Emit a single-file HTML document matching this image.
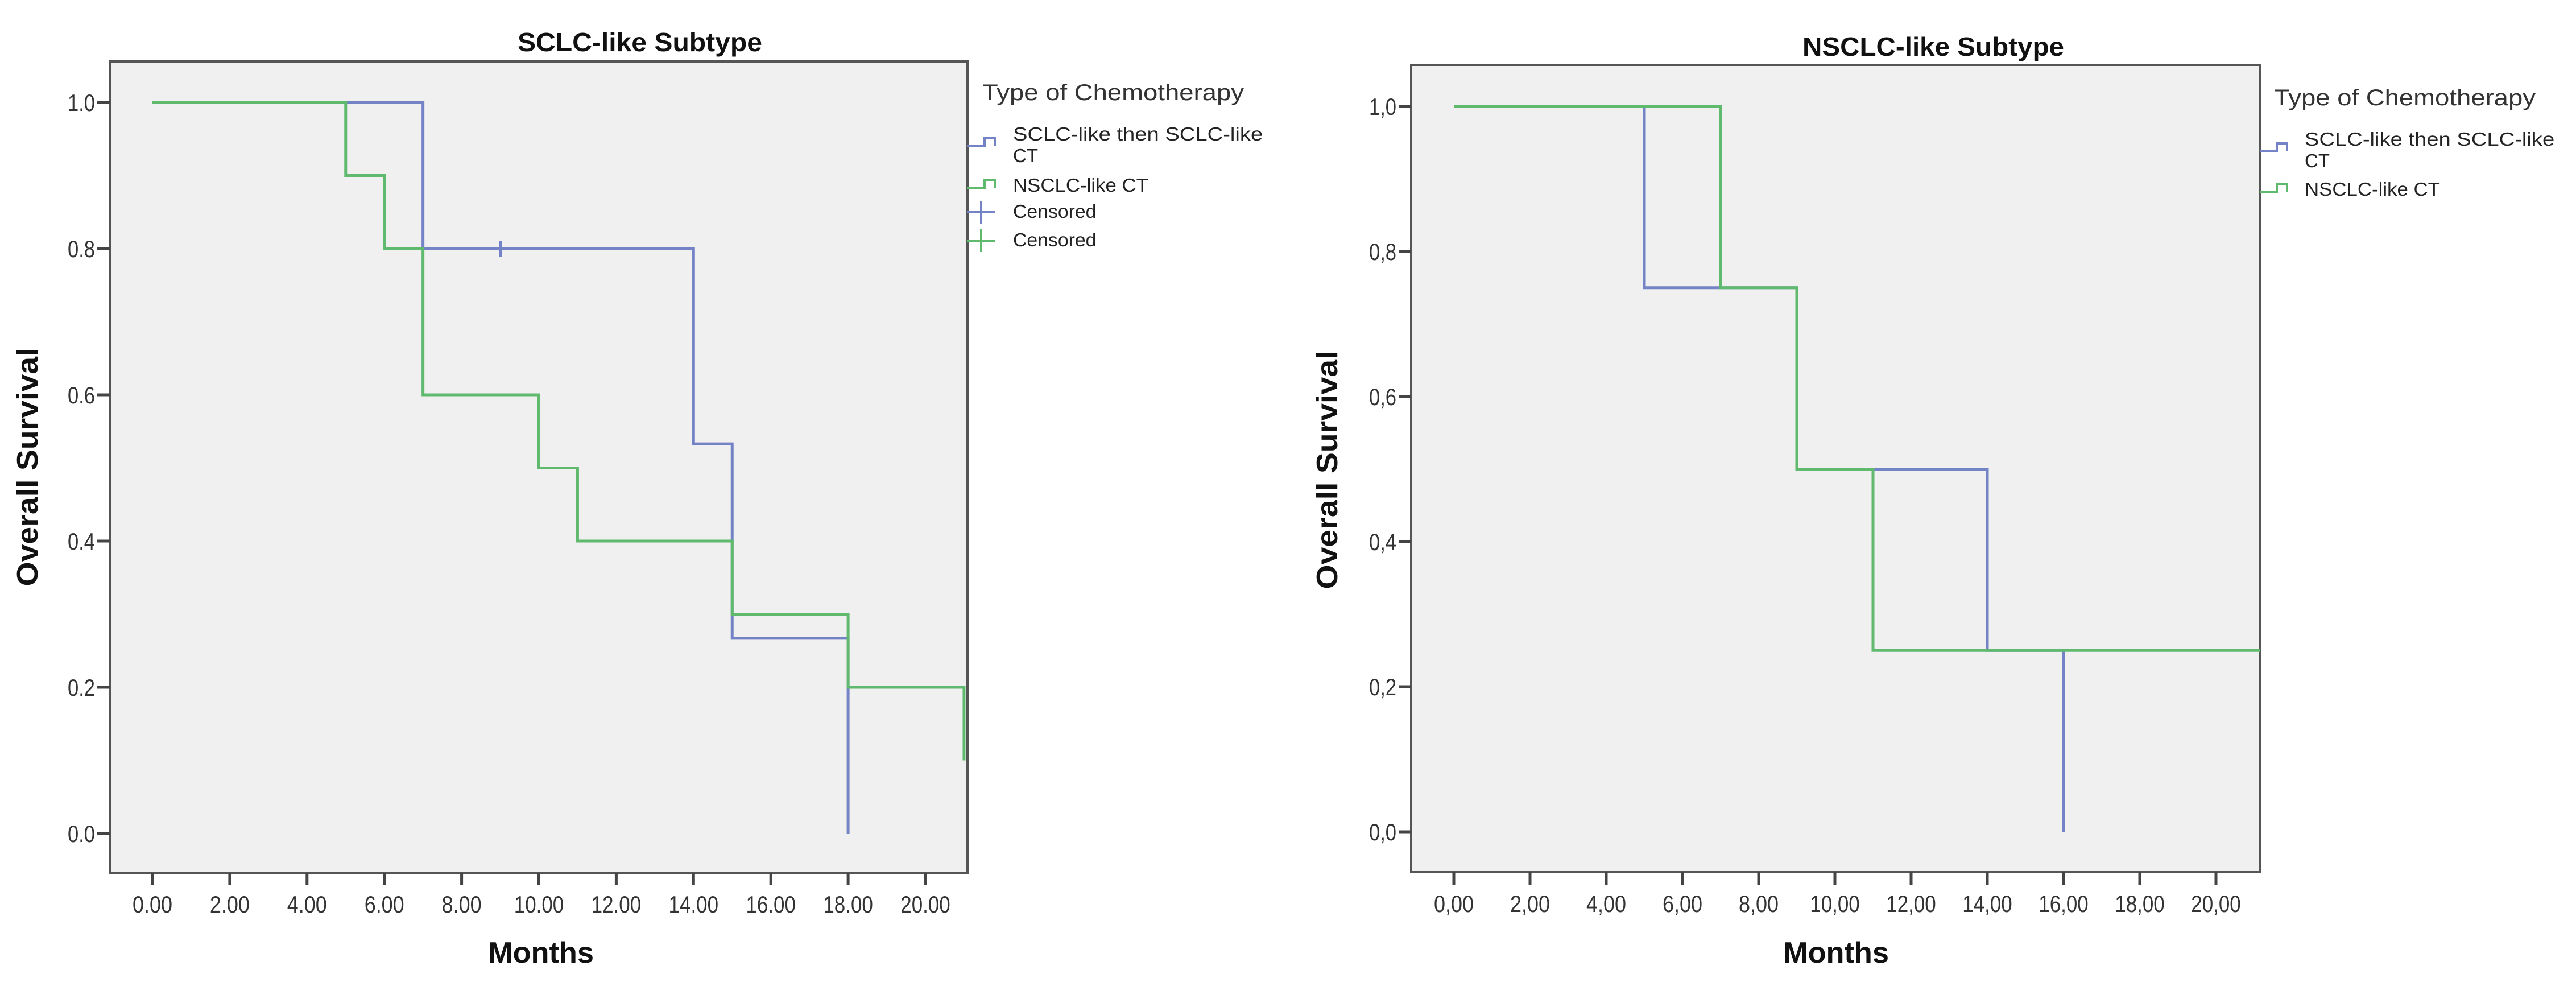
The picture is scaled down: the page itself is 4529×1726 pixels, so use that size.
<!DOCTYPE html>
<html><head><meta charset="utf-8"><style>
html,body{margin:0;padding:0;background:#fff;}
svg{display:block;font-family:"Liberation Sans",Arial,sans-serif;}
</style></head><body>
<svg id="chart" width="4529" height="1726" viewBox="0 0 4529 1726" xmlns="http://www.w3.org/2000/svg"></svg>
<script>
// Data arrays
const xTicks = [0,2,4,6,8,10,12,14,16,18,20];
const yTicks = [0,0.2,0.4,0.6,0.8,1.0];
const leftXTickLabels = ["0.00","2.00","4.00","6.00","8.00","10.00","12.00","14.00","16.00","18.00","20.00"];
const rightXTickLabels = ["0,00","2,00","4,00","6,00","8,00","10,00","12,00","14,00","16,00","18,00","20,00"];
const leftYTickLabels = ["0.0","0.2","0.4","0.6","0.8","1.0"];
const rightYTickLabels = ["0,0","0,2","0,4","0,6","0,8","1,0"];
// left panel (SCLC-like subtype): step times and survival values
const leftBlueTimes = [0,7,14,15,18];
const leftBlueSurv  = [1.0,0.8,0.533,0.267,0.0];
const leftBlueEnd = 18;
const leftBlueCensorTimes = [9];
const leftBlueCensorSurv = [0.8];
const leftGreenTimes = [0,5,6,7,10,11,15,18,21];
const leftGreenSurv  = [1.0,0.9,0.8,0.6,0.5,0.4,0.3,0.2,0.1];
const leftGreenEnd = 21;
// right panel (NSCLC-like subtype)
const rightBlueTimes = [0,5,9,14,16];
const rightBlueSurv  = [1.0,0.75,0.5,0.25,0.0];
const rightBlueEnd = 16;
const rightGreenTimes = [0,7,9,11];
const rightGreenSurv  = [1.0,0.75,0.5,0.25];
const rightGreenEnd = 21.15;

const BLUE = "#7383c6", GREEN = "#5fba6e";
const NS = "http://www.w3.org/2000/svg";
const svg = document.getElementById('chart');
function mk(tag, attrs, parent){ const e=document.createElementNS(NS,tag); for(const k in attrs) e.setAttribute(k,attrs[k]); (parent||svg).appendChild(e); return e; }

function stepPath(times, surv, end, xs, ys){
  let d = "M"+xs(times[0])+","+ys(surv[0]);
  for(let i=1;i<times.length;i++){ d += " H"+xs(times[i])+" V"+ys(surv[i]); }
  d += " H"+xs(end);
  return d;
}

function panel(cfg){
  const g = mk('g',{});
  
  
  const xs = v => cfg.x0 + v*cfg.xu;
  const ys = v => cfg.y0 - v*(cfg.y0-cfg.y1);
  const bg = mk('rect',{x:cfg.L,y:cfg.T,width:cfg.R-cfg.L,height:cfg.B-cfg.T,fill:"#f0f0f0",stroke:"#555",'stroke-width':4},g);
  
  
  const t = mk('text',{x:cfg.titleX,y:cfg.titleY,'text-anchor':'middle','font-size':46,'font-weight':'bold',fill:'#111',textLength:cfg.titleLen,lengthAdjust:'spacingAndGlyphs'},g);
  t.textContent = cfg.title;
  
  
  xTicks.forEach((v,i)=>{
    const l = mk('line',{x1:xs(v),x2:xs(v),y1:cfg.B,y2:cfg.B+22,stroke:'#444','stroke-width':5},g);
    
    
    const lab = cfg.xLabels[i];
    const tx = mk('text',{x:xs(v),y:cfg.B+70,'text-anchor':'middle','font-size':42,fill:'#333',textLength:lab.length*17.5,lengthAdjust:'spacingAndGlyphs'},g);
    tx.textContent = lab;
    
    
  });
  yTicks.forEach((v,i)=>{
    const l = mk('line',{x1:cfg.L-22,x2:cfg.L,y1:ys(v),y2:ys(v),stroke:'#444','stroke-width':5},g);
    
    
    const tx = mk('text',{x:cfg.L-26,y:ys(v)+15,'text-anchor':'end','font-size':42,fill:'#333',textLength:48,lengthAdjust:'spacingAndGlyphs'},g);
    tx.textContent = cfg.yLabels[i];
    
    
  });
  const xt = mk('text',{x:cfg.monthsX,y:1692,'text-anchor':'middle','font-size':52,'font-weight':'bold',fill:'#111',textLength:186,lengthAdjust:'spacingAndGlyphs'},g);
  xt.textContent = 'Months';
  
  
  const yt = mk('text',{x:0,y:0,'text-anchor':'middle','font-size':52,'font-weight':'bold',fill:'#111',textLength:419,lengthAdjust:'spacingAndGlyphs',transform:`translate(${cfg.ytX},${cfg.ytY}) rotate(-90)`},g);
  yt.textContent = 'Overall Survival';
  
  
  cfg.series.forEach(s=>{
    const p = mk('path',{d:stepPath(s.t,s.s,s.end,xs,ys),fill:'none',stroke:s.color,'stroke-width':5},g);
    
    
    (s.ct||[]).forEach((c,i)=>{
      const m = mk('line',{x1:xs(c),x2:xs(c),y1:ys(s.cs[i])-14,y2:ys(s.cs[i])+14,stroke:s.color,'stroke-width':5},g);
      
      
    });
  });
  // legend
  const lg = mk('g',{},g);
  
  
  const lt = mk('text',{x:cfg.legX,y:cfg.legTitleY,'font-size':40,fill:'#333',textLength:460,lengthAdjust:'spacingAndGlyphs'},lg);
  lt.textContent = 'Type of Chemotherapy';
  
  
  const sx = cfg.R, tx0 = cfg.legX+54;
  cfg.legend.forEach(en=>{
    const y = en.y;
    let d;
    if(en.kind==='step') d = `M${sx},${y} H${sx+30} V${y-14} H${sx+48} V${y}`;
    else d = `M${sx},${y-10} H${sx+48} M${sx+24},${y-30} V${y+10}`;
    const p = mk('path',{d:d,fill:'none',stroke:en.color,'stroke-width':4},lg);
    
    
    en.lines.forEach((ln,k)=>{
      const attrs = {x:tx0,y:en.base+k*38,'font-size':33,fill:'#222'};
      if(ln.length>6){ attrs.textLength = ln.length*18.3; attrs.lengthAdjust='spacingAndGlyphs'; }
      const txt = mk('text',attrs,lg);
      txt.textContent = ln;
      
      
    });
  });
}

panel({name:'sclc-panel', L:193,T:108,R:1701,B:1534, x0:268,xu:67.95,y0:1465,y1:180,
  title:'SCLC-like Subtype', titleX:1125, titleY:90, titleLen:430,
  xLabels:leftXTickLabels, yLabels:leftYTickLabels, monthsX:951, ytX:66, ytY:821,
  legX:1727, legTitleY:176,
  series:[
    {name:'sclc-ct-curve', t:leftBlueTimes, s:leftBlueSurv, end:leftBlueEnd, color:BLUE, ct:leftBlueCensorTimes, cs:leftBlueCensorSurv},
    {name:'nsclc-ct-curve', t:leftGreenTimes, s:leftGreenSurv, end:leftGreenEnd, color:GREEN}
  ],
  legend:[
    {kind:'step',color:BLUE,y:256,base:247,lines:['SCLC-like then SCLC-like','CT']},
    {kind:'step',color:GREEN,y:330,base:337,lines:['NSCLC-like CT']},
    {kind:'cross',color:BLUE,y:383,base:383,lines:['Censored']},
    {kind:'cross',color:GREEN,y:433,base:433,lines:['Censored']}
  ]});

panel({name:'nsclc-panel', L:2481,T:114,R:3973,B:1533, x0:2556,xu:67.0,y0:1462,y1:187,
  title:'NSCLC-like Subtype', titleX:3399, titleY:98, titleLen:460,
  xLabels:rightXTickLabels, yLabels:rightYTickLabels, monthsX:3228, ytX:2351, ytY:826,
  legX:3998, legTitleY:185,
  series:[
    {name:'sclc-ct-curve', t:rightBlueTimes, s:rightBlueSurv, end:rightBlueEnd, color:BLUE},
    {name:'nsclc-ct-curve', t:rightGreenTimes, s:rightGreenSurv, end:rightGreenEnd, color:GREEN}
  ],
  legend:[
    {kind:'step',color:BLUE,y:266,base:256,lines:['SCLC-like then SCLC-like','CT']},
    {kind:'step',color:GREEN,y:337,base:344,lines:['NSCLC-like CT']}
  ]});
</script>
</body></html>
